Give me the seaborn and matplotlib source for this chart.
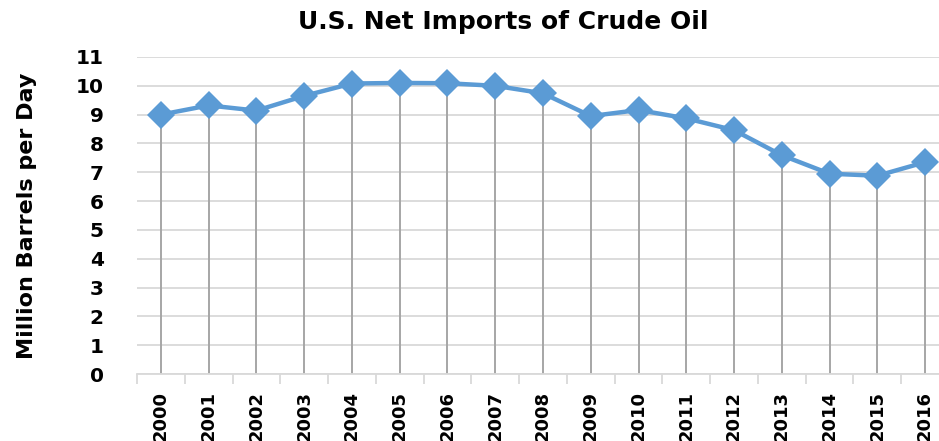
import numpy as np
import pandas as pd
import matplotlib
matplotlib.use('Agg')
import matplotlib.pyplot as plt
import seaborn as sns

# Data
years = ['2000', '2001', '2002', '2003', '2004', '2005', '2006', '2007', '2008',
         '2009', '2010', '2011', '2012', '2013', '2014', '2015', '2016']
imports = [9.00, 9.32, 9.14, 9.65, 10.08, 10.10, 10.09, 10.00, 9.74,
           8.95, 9.16, 8.87, 8.46, 7.59, 6.95, 6.88, 7.35]

df = pd.DataFrame({'year': years, 'imports': imports})
df['pos'] = np.arange(len(df))

sns.set_style('white')
plt.rcParams['font.family'] = ['DejaVu Sans']
plt.rcParams['text.color'] = 'black'
plt.rcParams['xtick.color'] = 'black'
plt.rcParams['ytick.color'] = 'black'
plt.rcParams['axes.labelcolor'] = 'black'

fig = plt.figure(figsize=(9.39, 4.41), dpi=100)
# right edge slightly past the figure, as in the cropped original
ax = fig.add_axes([137 / 939, 1 - 374 / 441, 812 / 939, 317 / 441])

# horizontal gridlines
ax.set_ylim(0, 11)
ax.set_yticks(range(0, 12))
ax.grid(axis='y', color='#d9d9d9', linewidth=1.3)
ax.set_axisbelow(True)

# drop lines from each point to the axis
ax.vlines(df['pos'], 0, df['imports'], color='#a6a6a6', linewidth=1.4, zorder=2)

sns.lineplot(data=df, x='pos', y='imports', ax=ax, color='#5b9bd5',
             linewidth=3.2, marker='D', markersize=14, markeredgewidth=0,
             zorder=3)

ax.set_xlim(-0.5, len(df) - 0.5)
ax.set_xticks(df['pos'])
ax.set_xticklabels(df['year'], rotation=90, fontsize=13, fontweight='bold')
ax.set_xticks(np.arange(-0.5, len(df)), minor=True)
ax.tick_params(axis='x', which='major', length=0, pad=12)
ax.tick_params(axis='x', which='minor', length=7, color='#d9d9d9', width=1.3,
               direction='out', bottom=True)
ax.tick_params(axis='y', length=0, pad=24, labelsize=14.5)
for lbl in ax.get_yticklabels():
    lbl.set_fontweight('bold')

for s in ['top', 'right', 'left']:
    ax.spines[s].set_visible(False)
ax.spines['bottom'].set_color('#d9d9d9')
ax.spines['bottom'].set_linewidth(1.3)

ax.set_xlabel('')
ax.set_ylabel('Million Barrels per Day', fontsize=16, fontweight='bold',
              labelpad=28)

fig.text(503 / 939, 1 - 22 / 441, 'U.S. Net Imports of Crude Oil',
         ha='center', va='center', fontsize=18, fontweight='bold')

fig.savefig('out.png', dpi=100)
